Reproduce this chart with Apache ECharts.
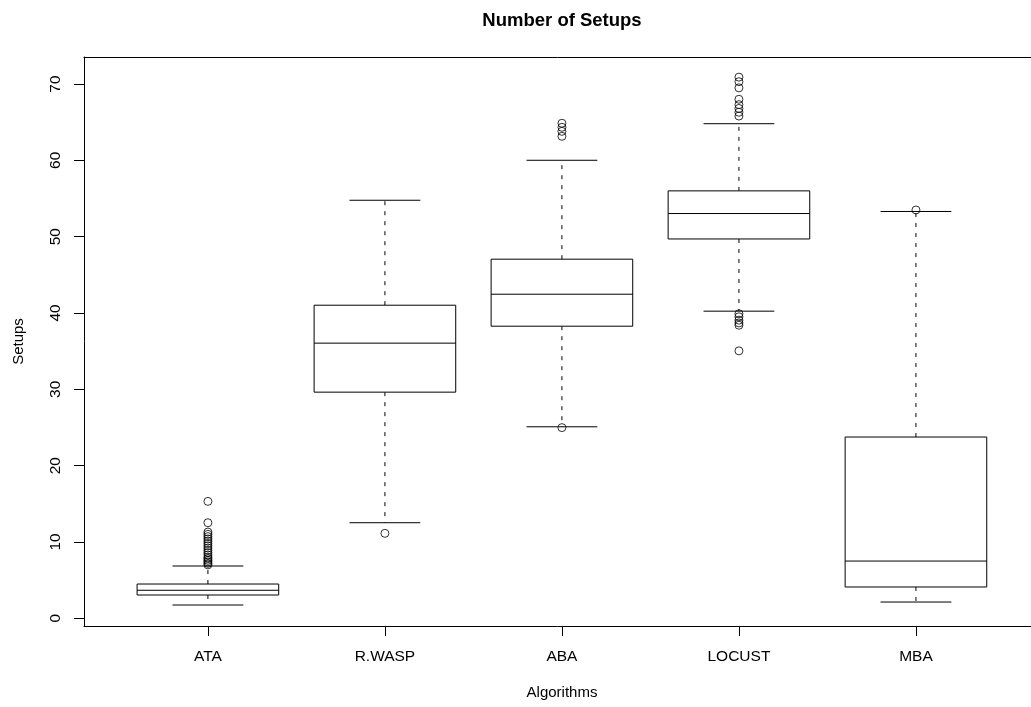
<!DOCTYPE html>
<html>
<head>
<meta charset="utf-8">
<script src="https://cdn.jsdelivr.net/npm/echarts@6/dist/echarts.min.js"></script>
<style>
html,body{margin:0;padding:0;background:#fff;}
#chart{width:1031px;height:707px;}
</style>
</head>
<body>
<div id="chart"></div>
<script>
const categories = ['ATA', 'R.WASP', 'ABA', 'LOCUST', 'MBA'];
const lowerWhisker = [1.74, 12.52, 25.09, 40.24, 2.13];
const q1 = [3.05, 29.63, 38.27, 49.70, 4.10];
const median = [3.67, 36.05, 42.46, 53.03, 7.50];
const q3 = [4.49, 41.02, 47.05, 56.00, 23.75];
const upperWhisker = [6.85, 54.77, 60.01, 64.80, 53.30];
const outliersATA = [7.0, 7.2, 7.4, 7.6, 7.8, 8.0, 8.3, 8.6, 8.9, 9.2, 9.5, 9.8, 10.1, 10.4, 10.7, 11.0, 11.3, 12.52, 15.32];
const outliersRWASP = [11.13];
const outliersABA = [24.98, 63.15, 63.8, 64.33, 64.86];
const outliersLOCUST = [35.04, 38.4, 38.7, 39.06, 39.5, 39.9, 65.8, 66.3, 66.8, 67.3, 68.0, 69.5, 70.3, 70.9];
const outliersMBA = [53.5];
const yTicks = [0, 10, 20, 30, 40, 50, 60, 70];
const xTicks = [1, 2, 3, 4, 5];

const outlierLists = [outliersATA, outliersRWASP, outliersABA, outliersLOCUST, outliersMBA];
const boxData = categories.map((c, i) => [i + 1, lowerWhisker[i], q1[i], median[i], q3[i], upperWhisker[i]]);
const outlierData = [];
outlierLists.forEach((arr, i) => arr.forEach(v => outlierData.push([i + 1, v])));

const FONT = '"Liberation Sans", Arial, Helvetica, sans-serif';
const chart = echarts.init(document.getElementById('chart'), null, {renderer: 'canvas'});

function renderBox(params, api) {
  const x = api.value(0);
  const lw = api.value(1), a = api.value(2), m = api.value(3), b = api.value(4), uw = api.value(5);
  const halfBox = api.size([0.4, 0])[0];
  const halfCap = api.size([0.2, 0])[0];
  const c = api.coord([x, 0])[0];
  const Y = v => api.coord([x, v])[1];
  const solid = {stroke: '#000', lineWidth: 1, fill: null};
  const dashed = {stroke: '#000', lineWidth: 1, lineDash: [4, 6], fill: null};
  return {
    type: 'group',
    children: [
      {type: 'line', shape: {x1: c, y1: Y(b), x2: c, y2: Y(uw)}, style: dashed},
      {type: 'line', shape: {x1: c, y1: Y(a), x2: c, y2: Y(lw)}, style: dashed},
      {type: 'line', shape: {x1: c - halfCap, y1: Y(uw), x2: c + halfCap, y2: Y(uw)}, style: solid},
      {type: 'line', shape: {x1: c - halfCap, y1: Y(lw), x2: c + halfCap, y2: Y(lw)}, style: solid},
      {type: 'rect', shape: {x: c - halfBox, y: Y(b), width: 2 * halfBox, height: Y(a) - Y(b)}, style: {stroke: '#000', lineWidth: 1, fill: '#fff'}},
      {type: 'line', shape: {x1: c - halfBox, y1: Y(m), x2: c + halfBox, y2: Y(m)}, style: solid}
    ]
  };
}

chart.setOption({
  animation: false,
  backgroundColor: '#fff',
  graphic: [{
    type: 'text',
    x: 562, y: 21,
    style: {text: 'Number of Setups', font: 'bold 18.5px ' + FONT, fill: '#000', textAlign: 'center', textVerticalAlign: 'middle'}
  }, {
    type: 'text',
    x: 562, y: 693,
    style: {text: 'Algorithms', font: '15px ' + FONT, fill: '#000', textAlign: 'center', textVerticalAlign: 'middle'}
  }],
  grid: {
    left: 84, top: 57, right: 0, bottom: 81, show: false
  },
  xAxis: [{
    type: 'value', min: 0.3, max: 5.65, position: 'bottom',
    axisLine: {show: true, onZero: false, lineStyle: {color: '#000', width: 1}},
    splitLine: {show: false},
    axisTick: {show: true, customValues: xTicks, length: 10, lineStyle: {color: '#000', width: 1}},
    axisLabel: {customValues: xTicks, formatter: v => categories[Math.round(v) - 1] || '', fontFamily: FONT, fontSize: 15.5, color: '#000', margin: 23}
  }, {
    type: 'value', min: 0.3, max: 5.65, position: 'top',
    axisLine: {show: true, onZero: false, lineStyle: {color: '#000', width: 1}},
    splitLine: {show: false}, axisTick: {show: false}, axisLabel: {show: false}
  }],
  yAxis: {
    type: 'value', min: -1.01, max: 73.54,
    name: 'Setups', nameLocation: 'middle', nameGap: 58, nameRotate: 90,
    nameTextStyle: {fontFamily: FONT, fontSize: 15, color: '#000'},
    axisLine: {show: true, onZero: false, lineStyle: {color: '#000', width: 1}},
    splitLine: {show: false},
    axisTick: {show: true, customValues: yTicks, length: 10, lineStyle: {color: '#000', width: 1}},
    axisLabel: {customValues: yTicks, rotate: 90, fontFamily: FONT, fontSize: 15.5, color: '#000', margin: 20}
  },
  series: [
    {type: 'custom', renderItem: renderBox, data: boxData, clip: false, encode: {x: 0, y: [1, 2, 3, 4, 5]}, z: 2},
    {type: 'scatter', data: outlierData, symbol: 'circle', symbolSize: 8, z: 3,
     itemStyle: {color: 'rgba(0,0,0,0)', borderColor: '#000', borderWidth: 1}}
  ]
});
</script>
</body>
</html>
